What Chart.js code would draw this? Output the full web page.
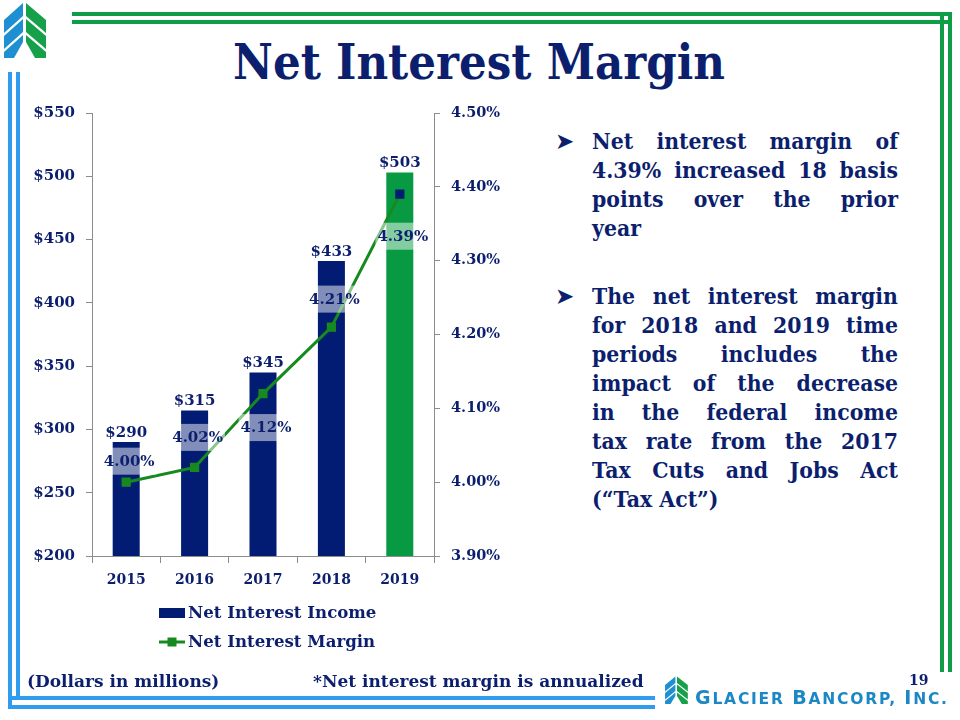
<!DOCTYPE html>
<html><head><meta charset="utf-8">
<script src="https://cdn.jsdelivr.net/npm/chart.js@4.4.1/dist/chart.umd.min.js"></script>
<style>
html,body{margin:0;padding:0;background:#fff;width:960px;height:720px;overflow:hidden;position:relative;font-family:"DejaVu Serif",serif;color:#0c1f6e}
.abs{position:absolute}
.g{position:absolute;background:#0f9d48}
.b{position:absolute;background:#2f9cf0}
#chartBox{position:absolute;left:0;top:0;width:540px;height:720px}
#title{position:absolute;left:233px;top:34px;font-weight:bold;font-size:48px;line-height:56px;white-space:nowrap;transform-origin:0 0;color:#0c1f6e}
.para{position:absolute;left:592px;font-weight:bold;font-size:22px;line-height:29px;color:#0c1f6e}
.ln{width:329px;transform:scaleX(0.93);transform-origin:0 0;text-align:justify;text-align-last:justify;height:29px}
.ln.last{text-align-last:left}
.bul{position:absolute;left:555px;font-family:"DejaVu Sans",sans-serif;font-size:23px;line-height:24px;color:#0c1f6e}
.foot{position:absolute;font-weight:bold;font-size:17px;line-height:20px;white-space:nowrap;color:#0c1f6e}
#brand{position:absolute;left:695px;top:686px;font-family:"DejaVu Sans",sans-serif;font-weight:bold;color:#1b87c5;white-space:nowrap;letter-spacing:1.8px;line-height:22px}
#brand .big{font-size:19px}
#brand .sm{font-size:15.5px}
</style></head><body>
<!-- frame lines -->
<div class="g" style="left:72px;top:12px;width:880px;height:4px"></div>
<div class="g" style="left:72px;top:20px;width:876px;height:4px"></div>
<div class="g" style="left:940px;top:12px;width:4px;height:660px"></div>
<div class="g" style="left:948px;top:12px;width:4px;height:660px"></div>
<div class="b" style="left:8px;top:72px;width:4px;height:637px"></div>
<div class="b" style="left:16px;top:72px;width:4px;height:628px"></div>
<div class="b" style="left:8px;top:696px;width:647px;height:4px"></div>
<div class="b" style="left:8px;top:705px;width:647px;height:4px"></div>

<!-- top-left logo -->
<svg class="abs" style="left:2px;top:2px" width="48" height="60" viewBox="0 0 48 60">
  <g fill="#1e8fd0">
    <polygon points="2,18 21,1 21,14 2,31"/>
    <polygon points="2,34 21,17 21,30 2,47"/>
    <polygon points="2,50 21,33 21,40 12,56 2,56"/>
  </g>
  <g fill="#16a04a">
    <polygon points="44,18 24,1 24,14 44,31"/>
    <polygon points="44,34 24,17 24,30 44,47"/>
    <polygon points="44,50 24,33 24,40 33,56 44,56"/>
  </g>
</svg>

<div id="title">Net Interest Margin</div>

<div id="chartBox"><canvas id="c"></canvas></div>

<!-- right text -->
<div class="bul" style="top:129px">➤</div>
<div class="para" style="top:127px">
  <div class="ln">Net interest margin of</div>
  <div class="ln">4.39% increased 18 basis</div>
  <div class="ln">points over the prior</div>
  <div class="ln last">year</div>
</div>
<div class="bul" style="top:284px">➤</div>
<div class="para" style="top:282px">
  <div class="ln">The net interest margin</div>
  <div class="ln">for 2018 and 2019 time</div>
  <div class="ln">periods includes the</div>
  <div class="ln">impact of the decrease</div>
  <div class="ln">in the federal income</div>
  <div class="ln">tax rate from the 2017</div>
  <div class="ln">Tax Cuts and Jobs Act</div>
  <div class="ln last">(“Tax Act”)</div>
</div>

<div class="foot" style="left:27px;top:671px">(Dollars in millions)</div>
<div class="foot" style="left:313px;top:671px">*Net interest margin is annualized</div>
<div class="foot" style="left:909px;top:670px;font-size:14px">19</div>

<!-- bottom logo -->
<svg class="abs" style="left:664px;top:676px" width="26" height="30" viewBox="0 0 48 60" preserveAspectRatio="none">
  <g fill="#1e8fd0">
    <polygon points="2,18 21,1 21,14 2,31"/>
    <polygon points="2,34 21,17 21,30 2,47"/>
    <polygon points="2,50 21,33 21,40 12,56 2,56"/>
  </g>
  <g fill="#16a04a">
    <polygon points="44,18 24,1 24,14 44,31"/>
    <polygon points="44,34 24,17 24,30 44,47"/>
    <polygon points="44,50 24,33 24,40 33,56 44,56"/>
  </g>
</svg>
<div id="brand"><span class="big">G</span><span class="sm">LACIER</span> <span class="big">B</span><span class="sm">ANCORP,</span> <span class="big">I</span><span class="sm">NC.</span></div>

<script>
// ---- data ----
const years = ['2015', '2016', '2017', '2018', '2019'];
const netInterestIncome = [290, 315, 345, 433, 503];      // $ millions
const netInterestMargin = [4.00, 4.02, 4.12, 4.21, 4.39];  // percent
const incomeAxisRange = [200, 550, 50];
const marginAxisRange = [3.90, 4.50, 0.10];
const seriesNames = ['Net Interest Income', 'Net Interest Margin'];

// ---- styles ----
const NAVY = '#021c74';
const GREEN_BAR = '#079a43';
const GREEN_LINE = '#178a1f';
const TEXT = '#0c1f6e';
const AXIS = '#8c8c8c';
const barColors = years.map((y, i) => i === years.length - 1 ? GREEN_BAR : NAVY);
const pointColors = years.map((y, i) => i === years.length - 1 ? NAVY : GREEN_LINE);
const marginLabelShift = [-21, -30, 34, -28, 42]; // label placement relative to point (px)

// fit title
(function(){
  const t = document.getElementById('title');
  const w = t.getBoundingClientRect().width;
  t.style.transform = 'scaleX(' + (492 / w) + ')';
})();

const labelPlugin = {
  id: 'labels',
  afterDatasetsDraw(chart) {
    const ctx = chart.ctx;
    ctx.save();
    ctx.font = 'bold 15px "DejaVu Serif"';
    ctx.fillStyle = TEXT;
    ctx.textAlign = 'center';
    // bar value labels
    const bm = chart.getDatasetMeta(1);
    bm.data.forEach((el, i) => {
      ctx.textBaseline = 'alphabetic';
      ctx.fillText('$' + netInterestIncome[i], el.x, el.y - 5.5);
    });
    // margin labels
    const lm = chart.getDatasetMeta(0);
    lm.data.forEach((el, i) => {
      const txt = netInterestMargin[i].toFixed(2) + '%';
      const w = ctx.measureText(txt).width;
      const cx = el.x + 3, cy = el.y + marginLabelShift[i];
      ctx.fillStyle = 'rgba(255,255,255,0.5)';
      ctx.fillRect(cx - w / 2 - 2, cy - 13.5, w + 4, 27);
      ctx.fillStyle = TEXT;
      ctx.textBaseline = 'middle';
      ctx.fillText(txt, cx, cy + 1);
    });
    ctx.restore();
  },
  afterDraw(chart) {
    // legend
    const ctx = chart.ctx;
    const a = chart.chartArea;
    const x0 = a.left + 67, y1 = a.bottom + 57, y2 = a.bottom + 86;
    ctx.save();
    ctx.fillStyle = NAVY;
    ctx.fillRect(x0, y1 - 5, 26, 10);
    ctx.strokeStyle = GREEN_LINE;
    ctx.lineWidth = 3;
    ctx.beginPath(); ctx.moveTo(x0, y2); ctx.lineTo(x0 + 26, y2); ctx.stroke();
    ctx.fillStyle = GREEN_LINE;
    ctx.fillRect(x0 + 13 - 4.5, y2 - 4.5, 9, 9);
    ctx.font = 'bold 16.6px "DejaVu Serif"';
    ctx.fillStyle = TEXT;
    ctx.textAlign = 'left';
    ctx.textBaseline = 'middle';
    ctx.fillText(chart.data.datasets[1].label, x0 + 29, y1 + 1);
    ctx.fillText(chart.data.datasets[0].label, x0 + 29, y2 + 1);
    ctx.restore();
  }
};

Chart.defaults.font.family = '"DejaVu Serif", serif';
Chart.defaults.font.weight = 'bold';
Chart.defaults.color = TEXT;

new Chart(document.getElementById('c'), {
  type: 'bar',
  data: {
    labels: years,
    datasets: [
      {
        type: 'line',
        label: seriesNames[1],
        data: netInterestMargin,
        yAxisID: 'y1',
        borderColor: GREEN_LINE,
        borderWidth: 3,
        pointStyle: 'rect',
        pointRadius: 6.5,
        pointHoverRadius: 6.5,
        pointBackgroundColor: pointColors,
        pointBorderWidth: 0,
        tension: 0,
        order: 0
      },
      {
        type: 'bar',
        label: seriesNames[0],
        data: netInterestIncome,
        yAxisID: 'y',
        backgroundColor: barColors,
        barPercentage: 0.395,
        categoryPercentage: 1,
        order: 1
      }
    ]
  },
  options: {
    responsive: true,
    maintainAspectRatio: false,
    animation: false,
    layout: { padding: { top: 113, left: 0, right: 0, bottom: 0 } },
    plugins: { legend: { display: false }, tooltip: { enabled: false } },
    scales: {
      x: {
        grid: { offset: true, drawOnChartArea: false, tickLength: 7, color: AXIS },
        border: { color: AXIS, width: 1 },
        ticks: { color: TEXT, font: { size: 14, weight: 'bold' }, padding: 9 },
        afterFit: s => { s.height = 164; }
      },
      y: {
        position: 'left',
        min: incomeAxisRange[0], max: incomeAxisRange[1],
        grid: { drawOnChartArea: false, tickLength: 6, color: AXIS },
        border: { color: AXIS, width: 1 },
        ticks: { stepSize: incomeAxisRange[2], color: TEXT, font: { size: 15, weight: 'bold' }, padding: 11,
                 callback: v => '$' + v },
        afterFit: s => { s.width = 92; }
      },
      y1: {
        position: 'right',
        min: marginAxisRange[0], max: marginAxisRange[1],
        grid: { drawOnChartArea: false, tickLength: 6, color: AXIS },
        border: { color: AXIS, width: 1 },
        ticks: { stepSize: marginAxisRange[2], color: TEXT, font: { size: 14.5, weight: 'bold' }, padding: 11,
                 callback: v => Number(v).toFixed(2) + '%' },
        afterFit: s => { s.width = 106; }
      }
    }
  },
  plugins: [labelPlugin]
});
</script>
</body></html>
